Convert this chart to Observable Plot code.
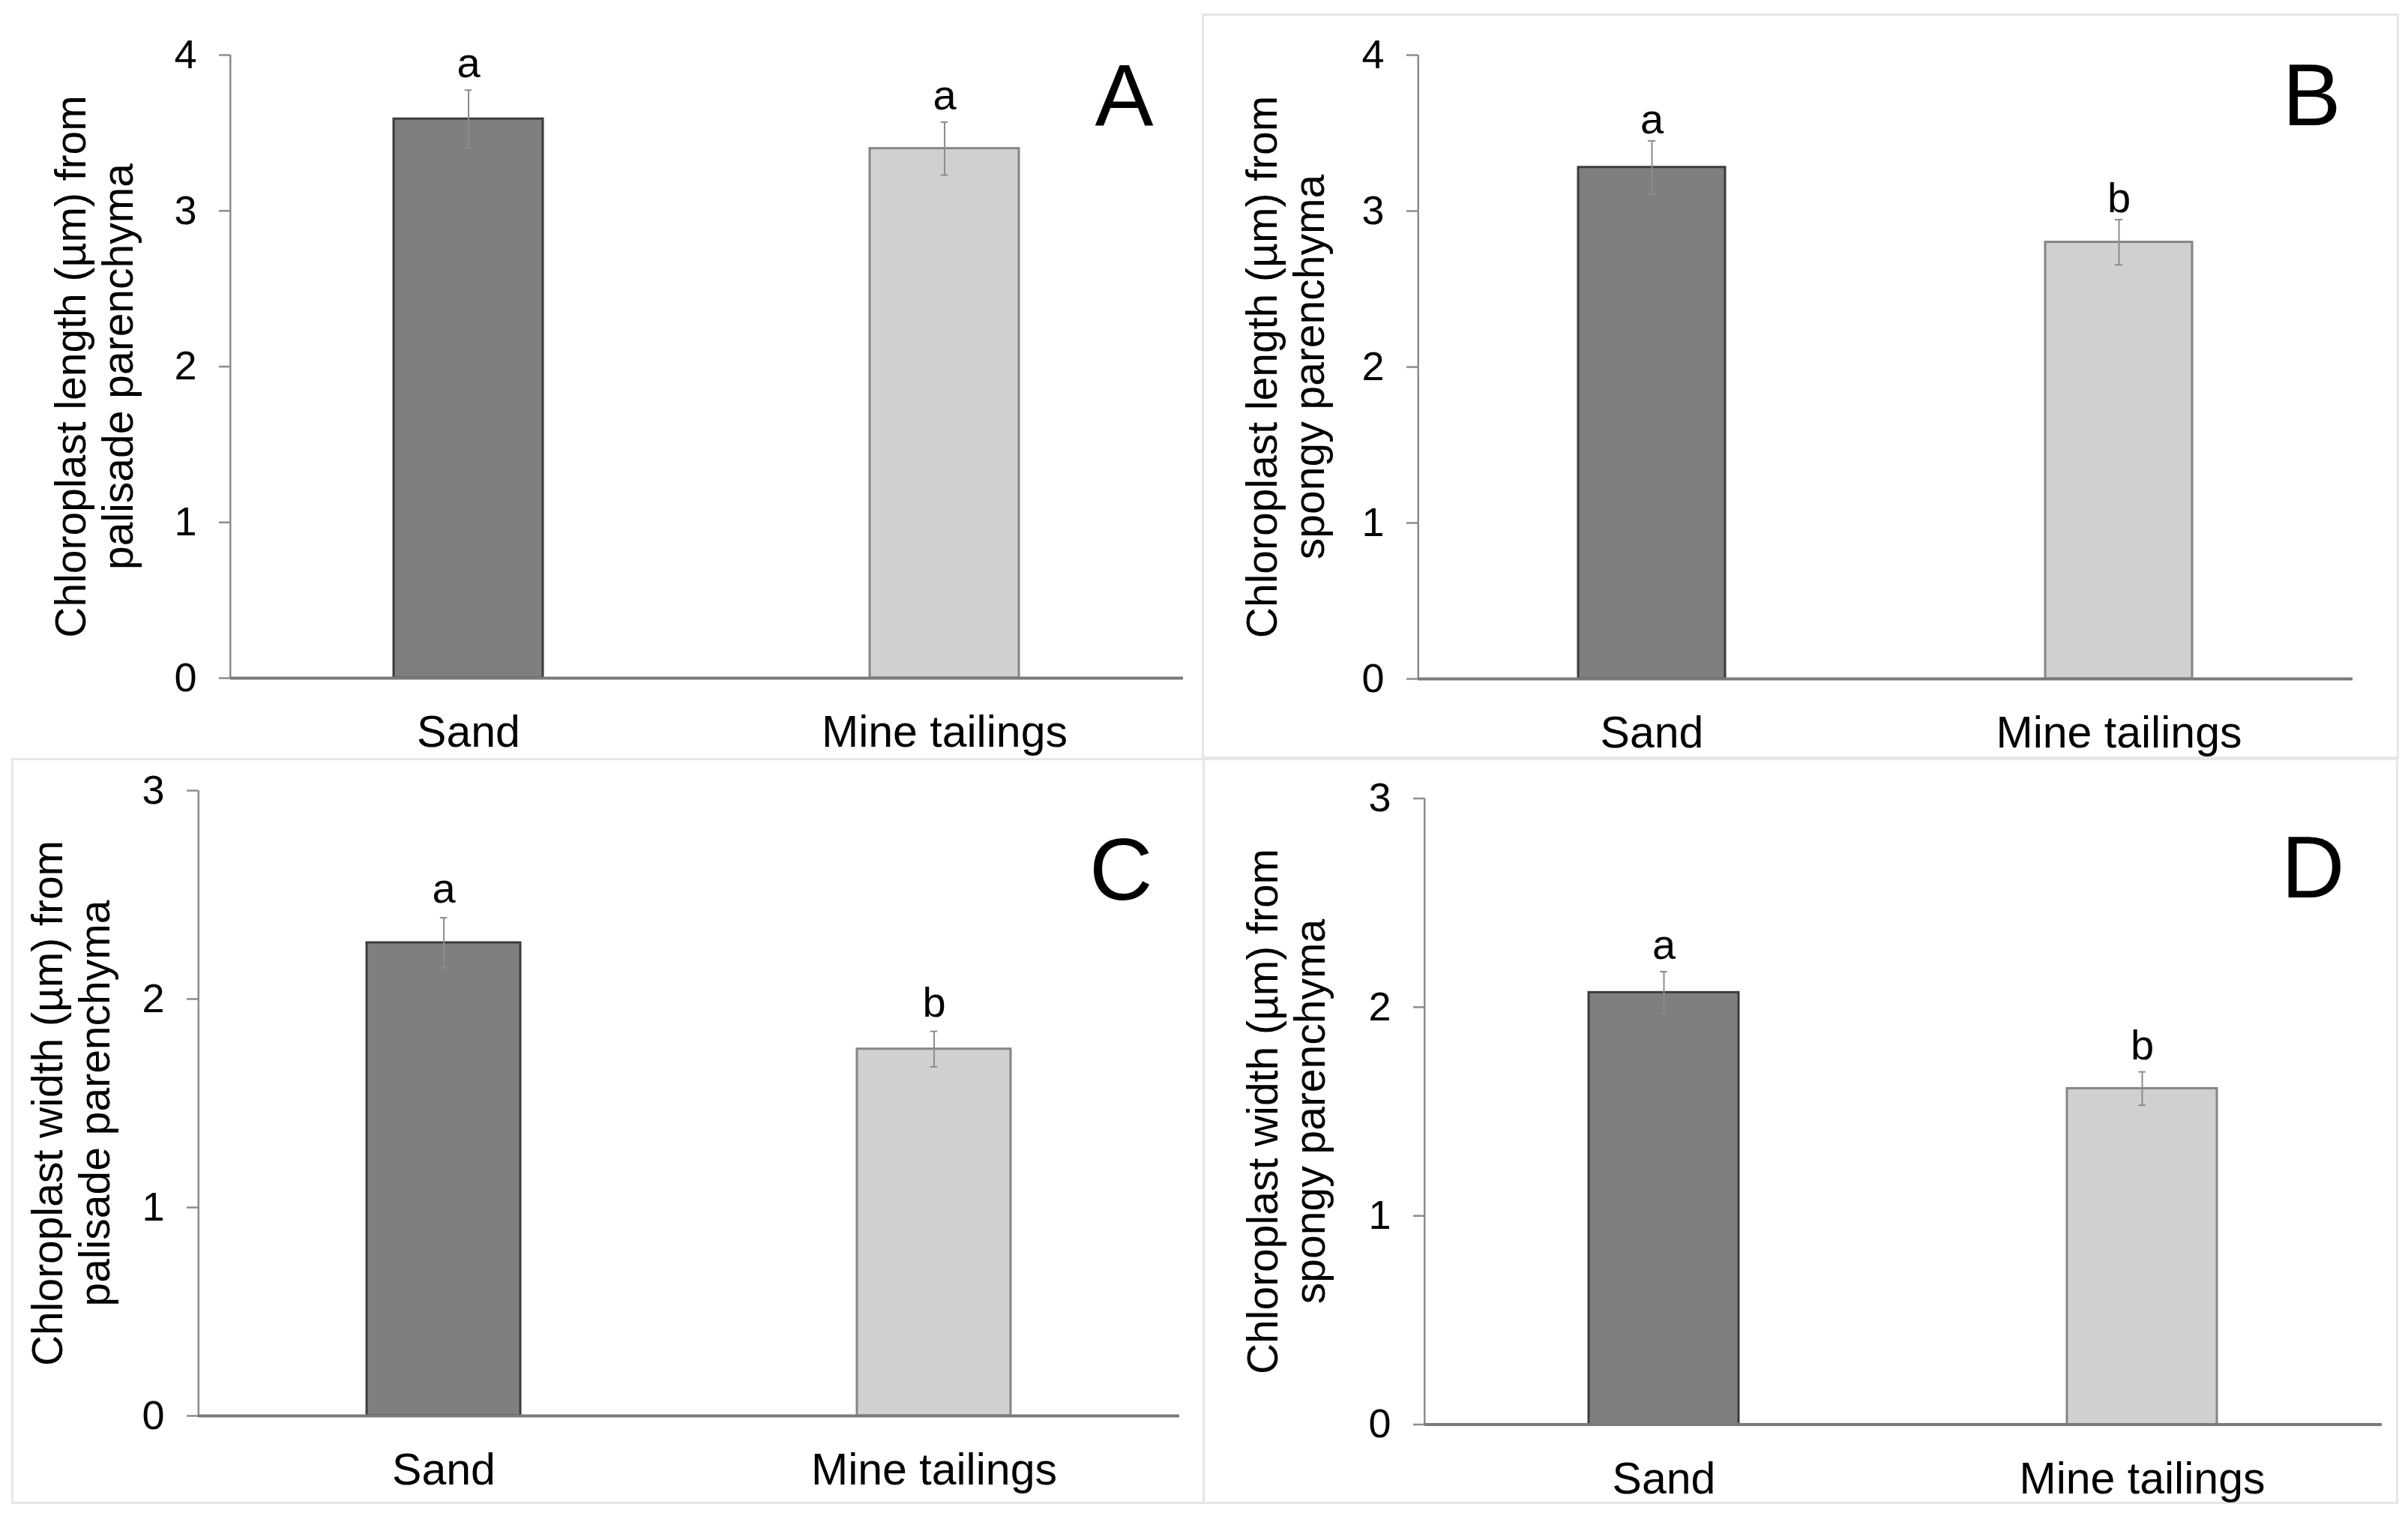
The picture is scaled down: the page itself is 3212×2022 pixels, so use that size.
<!DOCTYPE html>
<html>
<head>
<meta charset="utf-8">
<script src="https://cdn.jsdelivr.net/npm/d3@7"></script>
<script src="https://cdn.jsdelivr.net/npm/@observablehq/plot@0.6"></script>
<style>
  html, body { margin: 0; padding: 0; background: #fff; }
  #fig { position: relative; width: 3212px; height: 2022px; background: #fff; overflow: hidden; }
  .panel { position: absolute; }
  .border { position: absolute; border: 3px solid #e6e6e6; box-sizing: border-box; }
</style>
</head>
<body>
<div id="fig"></div>
<script>
// ---------- data ----------
const categories = ["Sand", "Mine tailings"];

const lengthPalisade   = [3.59, 3.40];
const lengthPalisadeSE = [0.185, 0.17];
const lengthPalisadeLetters = ["a", "a"];

const lengthSpongy   = [3.28, 2.80];
const lengthSpongySE = [0.17, 0.145];
const lengthSpongyLetters = ["a", "b"];

const widthPalisade   = [2.27, 1.76];
const widthPalisadeSE = [0.12, 0.085];
const widthPalisadeLetters = ["a", "b"];

const widthSpongy   = [2.07, 1.61];
const widthSpongySE = [0.10, 0.08];
const widthSpongyLetters = ["a", "b"];

const lengthTicks = [0, 1, 2, 3, 4];
const widthTicks  = [0, 1, 2, 3];

const panelLetters = ["A", "B", "C", "D"];
const yLabels = [
  "Chloroplast length (µm) from\npalisade parenchyma",
  "Chloroplast length (µm) from\nspongy parenchyma",
  "Chloroplast width (µm) from\npalisade parenchyma",
  "Chloroplast width (µm) from\nspongy parenchyma"
];

// ---------- layout ----------
const panels = [
  {letter: panelLetters[0], label: yLabels[0], means: lengthPalisade, se: lengthPalisadeSE, letters: lengthPalisadeLetters, ticks: lengthTicks,
   left: 0, top: 0, width: 1604, height: 1011, mL: 307, mR: 26, mT: 73, mB: 107, labelDx: -182, letterDx: -40, letterDy: 11, textDy: -35},
  {letter: panelLetters[1], label: yLabels[1], means: lengthSpongy, se: lengthSpongySE, letters: lengthSpongyLetters, ticks: lengthTicks,
   left: 1604, top: 0, width: 1608, height: 1011, mL: 287, mR: 74, mT: 73, mB: 106, labelDx: -177, letterDx: -16, letterDy: 10, textDy: -28},
  {letter: panelLetters[2], label: yLabels[2], means: widthPalisade, se: widthPalisadeSE, letters: widthPalisadeLetters, ticks: widthTicks,
   left: 0, top: 1011, width: 1605, height: 1011, mL: 264, mR: 32, mT: 43, mB: 134, labelDx: -170, letterDx: -36, letterDy: 62, textDy: -38},
  {letter: panelLetters[3], label: yLabels[3], means: widthSpongy, se: widthSpongySE, letters: widthSpongyLetters, ticks: widthTicks,
   left: 1605, top: 1011, width: 1607, height: 1011, mL: 295, mR: 35, mT: 53.5, mB: 122.5, labelDx: -185, letterDx: -50, letterDy: 49, textDy: -35}
];

const borders = [
  {left: 1603, top: 18, width: 1597, height: 994},
  {left: 15, top: 1011, width: 1592, height: 995},
  {left: 1604, top: 1011, width: 1595, height: 995}
];

const barFill   = ["#7f7f7f", "#d0d0d0"];
const barStroke = ["#3c3c3c", "#858585"];
const font = "'Liberation Sans', Arial, Helvetica, sans-serif";

const fig = document.getElementById("fig");

for (const b of borders) {
  const d = document.createElement("div");
  d.className = "border";
  Object.assign(d.style, {left: b.left + "px", top: b.top + "px", width: b.width + "px", height: b.height + "px"});
  fig.appendChild(d);
}

const paddingInner = 0.686, paddingOuter = 0.343;

for (const p of panels) {
  const data = categories.map((c, i) => ({
    cat: c, mean: p.means[i], lo: p.means[i] - p.se[i], hi: p.means[i] + p.se[i],
    letter: p.letters[i], idx: i
  }));
  const plotW = p.width - p.mL - p.mR;
  const step = plotW / (categories.length - paddingInner + 2 * paddingOuter);
  const bw = step * (1 - paddingInner);
  const capInset = Math.max(0, (bw - 10) / 2);
  // offset from the first band's centre back to the left edge of the frame
  const axisOffset = -(paddingOuter * step + bw / 2);
  const ymax = d3.max(p.ticks);
  const chart = Plot.plot({
    width: p.width,
    height: p.height,
    marginLeft: p.mL,
    marginRight: p.mR,
    marginTop: p.mT,
    marginBottom: p.mB,
    style: {fontFamily: font, background: "transparent", color: "#000", overflow: "visible"},
    x: {domain: categories, paddingInner, paddingOuter, axis: null},
    y: {domain: [0, ymax], axis: null},
    marks: [
      Plot.barY(data, {x: "cat", y: "mean", fill: d => barFill[d.idx], stroke: d => barStroke[d.idx], strokeWidth: 3}),
      Plot.ruleX([categories[0]], {x: d => d, y1: 0, y2: ymax, dx: axisOffset, stroke: "#8c8c8c", strokeWidth: 2.5}),
      Plot.ruleY([0], {stroke: "#7a7a7a", strokeWidth: 4}),
      Plot.axisY({ticks: p.ticks, tickFormat: d => String(d), tickSize: 15, tickPadding: 30, fontSize: 54,
                  stroke: "#8c8c8c", strokeWidth: 2.5, fill: "#000", label: null}),
      Plot.axisX({tickSize: 0, tickPadding: 50, fontSize: 59, fill: "#000", label: null}),
      Plot.ruleX(data, {x: "cat", y1: "lo", y2: "hi", stroke: "#8c8c8c", strokeWidth: 2}),
      Plot.tickY(data, {x: "cat", y: "hi", stroke: "#8c8c8c", strokeWidth: 2, insetLeft: capInset, insetRight: capInset}),
      Plot.tickY(data, {x: "cat", y: "lo", stroke: "#8c8c8c", strokeWidth: 2, insetLeft: capInset, insetRight: capInset}),
      Plot.text(data, {x: "cat", y: "hi", text: "letter", dy: p.textDy, fontSize: 56, fill: "#000"}),
      Plot.text([p.letter], {frameAnchor: "top-right", textAnchor: "end", lineAnchor: "top",
                             dx: p.letterDx, dy: p.letterDy, fontSize: 117, fill: "#000"}),
      Plot.text([p.label], {frameAnchor: "left", rotate: -90, textAnchor: "middle", lineAnchor: "middle",
                            dx: p.labelDx, fontSize: 57, lineHeight: 1.1, fill: "#000"})
    ]
  });
  chart.classList.add("panel");
  chart.style.left = p.left + "px";
  chart.style.top = p.top + "px";
  chart.style.position = "absolute";
  fig.appendChild(chart);
}
</script>
</body>
</html>
